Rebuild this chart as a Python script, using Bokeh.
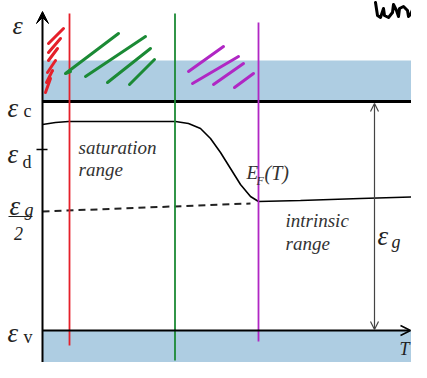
from bokeh.plotting import figure
from bokeh.models import Range1d, Arrow, VeeHead, OpenHead
from bokeh.core.properties import value
from bokeh.embed import file_html
from bokeh.resources import INLINE

# ---- diagram data (pixel-like coordinates, y grows downward) ----
band_left = [42, 42]
band_right = [430, 430]
band_top = [60, 330]
band_bottom = [101, 371]

level_y = [101, 330]
level_width = [3, 2]

fermi_x = [42, 55, 68, 120, 175, 188, 200, 210, 220, 230, 240, 250, 258, 300, 360, 430]
fermi_y = [124, 122, 121, 121, 121, 123, 128, 138, 152, 168, 184, 196, 201, 200, 198, 196]

dash_x = [42, 250]
dash_y = [211, 203]

vline_x = [69, 174.5, 258]
vline_top = [13, 13, 22]
vline_bottom = [345, 360, 341]
vline_color = ["#e5202a", "#1b8a35", "#b027c4"]

red_xs = [[63, 48], [60, 48], [57, 48], [55, 47], [52, 46], [50, 45]]
red_ys = [[28, 43], [38, 52], [48, 60], [60, 72], [70, 82], [78, 92]]
green_xs = [[118, 65, 70], [145, 85], [150, 107], [154, 129]]
green_ys = [[33, 73, 71], [36, 76], [48, 82], [59, 84]]
purple_xs = [[223, 188], [238, 192], [243, 213], [253, 234]]
purple_ys = [[46, 71], [56, 83], [63, 84], [73, 87]]

hand_x = [375, 377, 380, 383, 384, 388, 392, 393, 396, 398, 399, 403, 407, 408, 410, 413, 417, 422, 427]
hand_y = [2, 15, 17, 8, 15, 17, 12, 4, 10, 16, 8, 6, 10, 16, 14, 7, 13, 4, 1]

tick_x = [36, 47]
tick_y = [149, 149]

eps_x = [7, 7, 9, 7]
eps_y = [107, 153, 205, 332]
sub_text = ["c", "d", "g", "v"]
sub_x = [23, 22, 24, 23]
sub_y = [110, 161, 209, 336]
sub_style = ["normal", "normal", "italic", "normal"]

label_text = ["saturation", "range", "intrinsic", "range"]
label_x = [78, 78, 285, 285]
label_y = [147, 169, 220, 243]

p = figure(width=411, height=362, x_range=Range1d(0, 411), y_range=Range1d(362, 0),
           output_backend="svg", toolbar_location=None, min_border=0,
           x_axis_location=None, y_axis_location=None)
p.grid.visible = False
p.outline_line_color = None
p.background_fill_color = "white"

# bands
p.quad(left=band_left, right=band_right, top=band_top, bottom=band_bottom,
       fill_color="#aecde2", line_color=None)

# level lines
p.segment(x0=[42], y0=[level_y[0]], x1=[430], y1=[level_y[0]], line_color="black", line_width=level_width[0])
p.add_layout(Arrow(end=OpenHead(size=10, line_color="black", line_width=1.5),
                   x_start=42, y_start=level_y[1], x_end=410, y_end=level_y[1],
                   line_color="black", line_width=level_width[1]))

# vertical energy axis
p.add_layout(Arrow(end=VeeHead(size=12, fill_color="black", line_color="black"),
                   x_start=42, y_start=380, x_end=42, y_end=11,
                   line_color="black", line_width=2))
p.line(tick_x, tick_y, line_color="black", line_width=1.5)

# Fermi level and midgap dashed
p.line(fermi_x, fermi_y, line_color="black", line_width=1.6)
p.line(dash_x, dash_y, line_color="#222222", line_width=2, line_dash="7 5")

# vertical temperature markers
p.segment(x0=vline_x, y0=vline_top, x1=vline_x, y1=vline_bottom, line_color=vline_color, line_width=1.8)

# hand strokes
p.multi_line(red_xs, red_ys, line_color="#e5202a", line_width=3, line_cap="round")
p.multi_line(green_xs, green_ys, line_color="#1b8a35", line_width=3, line_cap="round", line_join="round")
p.multi_line(purple_xs, purple_ys, line_color="#b027c4", line_width=3, line_cap="round")
p.line(hand_x, hand_y, line_color="black", line_width=3, line_join="round", line_cap="round")

# gap arrow
p.add_layout(Arrow(start=OpenHead(size=8, line_color="#444444", line_width=1.2),
                   end=OpenHead(size=8, line_color="#444444", line_width=1.2),
                   x_start=374, y_start=103, x_end=374, y_end=329,
                   line_color="#444444", line_width=1.2))

serif = value("Liberation Serif")

# epsilon labels
p.text(x=[12], y=[25], text=["ε"], text_font=serif, text_font_size="26px",
       text_font_style="italic", text_color="#222222", text_baseline="alphabetic")
p.text(x=eps_x, y=eps_y, text=["ε"] * 4, text_font=serif, text_font_size="27px",
       text_font_style="italic", text_color="#222222", text_baseline="alphabetic")
for t, xx, yy, st in zip(sub_text, sub_x, sub_y, sub_style):
    p.text(x=[xx], y=[yy], text=[t], text_font=serif, text_font_size="18px",
           text_font_style=st, text_color="#222222", text_baseline="alphabetic")
p.segment(x0=[8], y0=[216], x1=[32], y1=[216], line_color="#222222", line_width=1.2)
p.text(x=[18], y=[233], text=["2"], text_font=serif, text_font_size="18px",
       text_font_style="italic", text_color="#222222", text_baseline="alphabetic", text_align="center")

# right eps_g
p.text(x=[377], y=[235], text=["ε"], text_font=serif, text_font_size="27px",
       text_font_style="italic", text_color="#222222", text_baseline="alphabetic")
p.text(x=[391], y=[241], text=["g"], text_font=serif, text_font_size="18px",
       text_font_style="italic", text_color="#222222", text_baseline="alphabetic")

# region labels
p.text(x=label_x, y=label_y, text=label_text, text_font=serif, text_font_size="19px",
       text_font_style="italic", text_color="#333333", text_baseline="alphabetic")

# E_F(T)
p.text(x=[246], y=[172], text=["E"], text_font=serif, text_font_size="19px",
       text_font_style="italic", text_color="#333333", text_baseline="alphabetic")
p.text(x=[256], y=[180], text=["F"], text_font=serif, text_font_size="12px",
       text_font_style="italic", text_color="#333333", text_baseline="alphabetic")
p.text(x=[264], y=[172], text=["(T)"], text_font=serif, text_font_size="20px",
       text_font_style="italic", text_color="#333333", text_baseline="alphabetic")

# T axis label
p.text(x=[399], y=[348], text=["T"], text_font=serif, text_font_size="18px",
       text_font_style="italic", text_color="#222222", text_baseline="alphabetic")

open("out.html", "w").write(file_html(p, INLINE))
